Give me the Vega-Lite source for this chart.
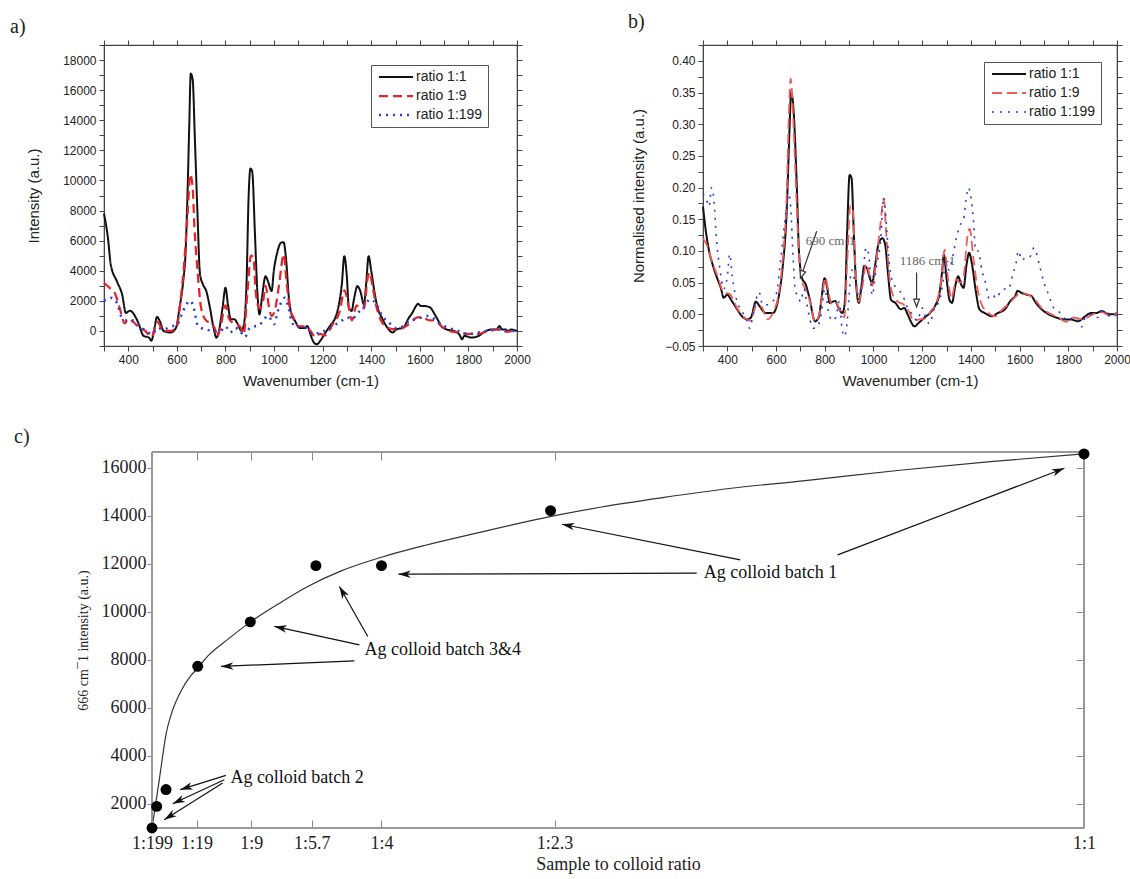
{
  "$schema": "https://vega.github.io/schema/vega-lite/v6.json",
  "background": "white",
  "padding": {"left": 9, "top": 11, "right": 2, "bottom": 2},
  "spacing": 38,
  "config": {
    "axis": {"grid": false},
    "title": {"font": "Liberation Serif", "fontSize": 20, "fontWeight": "normal", "color": "#222"}
  },
  "datasets": {
    "specA": [
      {"series":"ratio 1:1","wn":300,"y":7800},{"series":"ratio 1:1","wn":316,"y":6200},{"series":"ratio 1:1","wn":328,"y":4400},{"series":"ratio 1:1","wn":353,"y":3300},{"series":"ratio 1:1","wn":375,"y":2400},{"series":"ratio 1:1","wn":390,"y":1200},{"series":"ratio 1:1","wn":407,"y":1350},{"series":"ratio 1:1","wn":419,"y":1200},{"series":"ratio 1:1","wn":441,"y":550},{"series":"ratio 1:1","wn":463,"y":-330},{"series":"ratio 1:1","wn":485,"y":-440},{"series":"ratio 1:1","wn":495,"y":-650},{"series":"ratio 1:1","wn":508,"y":200},{"series":"ratio 1:1","wn":518,"y":930},{"series":"ratio 1:1","wn":530,"y":650},{"series":"ratio 1:1","wn":545,"y":0},{"series":"ratio 1:1","wn":574,"y":-100},{"series":"ratio 1:1","wn":596,"y":200},{"series":"ratio 1:1","wn":611,"y":1550},{"series":"ratio 1:1","wn":626,"y":3300},{"series":"ratio 1:1","wn":636,"y":5300},{"series":"ratio 1:1","wn":645,"y":9900},{"series":"ratio 1:1","wn":651,"y":13700},{"series":"ratio 1:1","wn":657,"y":17100},{"series":"ratio 1:1","wn":665,"y":16700},{"series":"ratio 1:1","wn":674,"y":12800},{"series":"ratio 1:1","wn":685,"y":7700},{"series":"ratio 1:1","wn":695,"y":3800},{"series":"ratio 1:1","wn":707,"y":3100},{"series":"ratio 1:1","wn":721,"y":2650},{"series":"ratio 1:1","wn":736,"y":1550},{"series":"ratio 1:1","wn":751,"y":200},{"series":"ratio 1:1","wn":763,"y":-450},{"series":"ratio 1:1","wn":773,"y":0},{"series":"ratio 1:1","wn":788,"y":1550},{"series":"ratio 1:1","wn":800,"y":2870},{"series":"ratio 1:1","wn":810,"y":1770},{"series":"ratio 1:1","wn":822,"y":770},{"series":"ratio 1:1","wn":837,"y":770},{"series":"ratio 1:1","wn":851,"y":440},{"series":"ratio 1:1","wn":866,"y":0},{"series":"ratio 1:1","wn":876,"y":440},{"series":"ratio 1:1","wn":887,"y":3300},{"series":"ratio 1:1","wn":895,"y":8800},{"series":"ratio 1:1","wn":903,"y":10800},{"series":"ratio 1:1","wn":910,"y":10600},{"series":"ratio 1:1","wn":921,"y":6600},{"series":"ratio 1:1","wn":931,"y":2650},{"series":"ratio 1:1","wn":940,"y":1100},{"series":"ratio 1:1","wn":950,"y":2200},{"series":"ratio 1:1","wn":965,"y":3640},{"series":"ratio 1:1","wn":975,"y":3300},{"series":"ratio 1:1","wn":990,"y":2650},{"series":"ratio 1:1","wn":999,"y":4000},{"series":"ratio 1:1","wn":1013,"y":5200},{"series":"ratio 1:1","wn":1028,"y":5850},{"series":"ratio 1:1","wn":1039,"y":5900},{"series":"ratio 1:1","wn":1049,"y":4850},{"series":"ratio 1:1","wn":1061,"y":2200},{"series":"ratio 1:1","wn":1072,"y":1100},{"series":"ratio 1:1","wn":1087,"y":650},{"series":"ratio 1:1","wn":1105,"y":200},{"series":"ratio 1:1","wn":1127,"y":200},{"series":"ratio 1:1","wn":1137,"y":330},{"series":"ratio 1:1","wn":1149,"y":-200},{"series":"ratio 1:1","wn":1164,"y":-770},{"series":"ratio 1:1","wn":1176,"y":-880},{"series":"ratio 1:1","wn":1190,"y":-660},{"series":"ratio 1:1","wn":1208,"y":-200},{"series":"ratio 1:1","wn":1230,"y":330},{"series":"ratio 1:1","wn":1252,"y":880},{"series":"ratio 1:1","wn":1267,"y":1770},{"series":"ratio 1:1","wn":1279,"y":3100},{"series":"ratio 1:1","wn":1289,"y":4970},{"series":"ratio 1:1","wn":1299,"y":3760},{"series":"ratio 1:1","wn":1308,"y":1550},{"series":"ratio 1:1","wn":1319,"y":1330},{"series":"ratio 1:1","wn":1330,"y":2200},{"series":"ratio 1:1","wn":1343,"y":2980},{"series":"ratio 1:1","wn":1355,"y":2650},{"series":"ratio 1:1","wn":1370,"y":1770},{"series":"ratio 1:1","wn":1380,"y":3300},{"series":"ratio 1:1","wn":1389,"y":4970},{"series":"ratio 1:1","wn":1400,"y":4000},{"series":"ratio 1:1","wn":1415,"y":2430},{"series":"ratio 1:1","wn":1426,"y":1550},{"series":"ratio 1:1","wn":1444,"y":880},{"series":"ratio 1:1","wn":1466,"y":220},{"series":"ratio 1:1","wn":1488,"y":-100},{"series":"ratio 1:1","wn":1503,"y":100},{"series":"ratio 1:1","wn":1532,"y":220},{"series":"ratio 1:1","wn":1555,"y":880},{"series":"ratio 1:1","wn":1569,"y":1200},{"series":"ratio 1:1","wn":1584,"y":1650},{"series":"ratio 1:1","wn":1592,"y":1800},{"series":"ratio 1:1","wn":1606,"y":1650},{"series":"ratio 1:1","wn":1621,"y":1650},{"series":"ratio 1:1","wn":1643,"y":1550},{"series":"ratio 1:1","wn":1658,"y":1200},{"series":"ratio 1:1","wn":1673,"y":770},{"series":"ratio 1:1","wn":1688,"y":330},{"series":"ratio 1:1","wn":1710,"y":100},{"series":"ratio 1:1","wn":1740,"y":0},{"series":"ratio 1:1","wn":1762,"y":-220},{"series":"ratio 1:1","wn":1774,"y":-550},{"series":"ratio 1:1","wn":1783,"y":-330},{"series":"ratio 1:1","wn":1813,"y":-440},{"series":"ratio 1:1","wn":1842,"y":-330},{"series":"ratio 1:1","wn":1872,"y":0},{"series":"ratio 1:1","wn":1894,"y":100},{"series":"ratio 1:1","wn":1916,"y":100},{"series":"ratio 1:1","wn":1928,"y":330},{"series":"ratio 1:1","wn":1938,"y":100},{"series":"ratio 1:1","wn":1953,"y":100},{"series":"ratio 1:1","wn":1963,"y":0},{"series":"ratio 1:1","wn":1975,"y":100},{"series":"ratio 1:1","wn":2000,"y":0},
      {"series":"ratio 1:9","wn":300,"y":3200},{"series":"ratio 1:9","wn":320,"y":2900},{"series":"ratio 1:9","wn":345,"y":2500},{"series":"ratio 1:9","wn":365,"y":1500},{"series":"ratio 1:9","wn":385,"y":500},{"series":"ratio 1:9","wn":400,"y":800},{"series":"ratio 1:9","wn":420,"y":600},{"series":"ratio 1:9","wn":440,"y":300},{"series":"ratio 1:9","wn":470,"y":0},{"series":"ratio 1:9","wn":495,"y":-400},{"series":"ratio 1:9","wn":520,"y":600},{"series":"ratio 1:9","wn":545,"y":0},{"series":"ratio 1:9","wn":575,"y":0},{"series":"ratio 1:9","wn":600,"y":300},{"series":"ratio 1:9","wn":615,"y":2000},{"series":"ratio 1:9","wn":630,"y":4500},{"series":"ratio 1:9","wn":645,"y":8000},{"series":"ratio 1:9","wn":655,"y":10400},{"series":"ratio 1:9","wn":665,"y":9500},{"series":"ratio 1:9","wn":672,"y":7000},{"series":"ratio 1:9","wn":685,"y":4000},{"series":"ratio 1:9","wn":700,"y":1500},{"series":"ratio 1:9","wn":720,"y":700},{"series":"ratio 1:9","wn":740,"y":500},{"series":"ratio 1:9","wn":755,"y":200},{"series":"ratio 1:9","wn":765,"y":-400},{"series":"ratio 1:9","wn":780,"y":300},{"series":"ratio 1:9","wn":800,"y":1700},{"series":"ratio 1:9","wn":815,"y":800},{"series":"ratio 1:9","wn":835,"y":500},{"series":"ratio 1:9","wn":860,"y":300},{"series":"ratio 1:9","wn":875,"y":-200},{"series":"ratio 1:9","wn":890,"y":2500},{"series":"ratio 1:9","wn":905,"y":5000},{"series":"ratio 1:9","wn":915,"y":4900},{"series":"ratio 1:9","wn":925,"y":2500},{"series":"ratio 1:9","wn":940,"y":1500},{"series":"ratio 1:9","wn":955,"y":2000},{"series":"ratio 1:9","wn":965,"y":3000},{"series":"ratio 1:9","wn":980,"y":1500},{"series":"ratio 1:9","wn":990,"y":1000},{"series":"ratio 1:9","wn":1005,"y":1500},{"series":"ratio 1:9","wn":1020,"y":3000},{"series":"ratio 1:9","wn":1040,"y":5100},{"series":"ratio 1:9","wn":1050,"y":3500},{"series":"ratio 1:9","wn":1065,"y":1500},{"series":"ratio 1:9","wn":1080,"y":900},{"series":"ratio 1:9","wn":1100,"y":300},{"series":"ratio 1:9","wn":1130,"y":300},{"series":"ratio 1:9","wn":1150,"y":0},{"series":"ratio 1:9","wn":1170,"y":-400},{"series":"ratio 1:9","wn":1190,"y":-200},{"series":"ratio 1:9","wn":1210,"y":-300},{"series":"ratio 1:9","wn":1240,"y":400},{"series":"ratio 1:9","wn":1270,"y":1300},{"series":"ratio 1:9","wn":1290,"y":2700},{"series":"ratio 1:9","wn":1305,"y":1800},{"series":"ratio 1:9","wn":1320,"y":700},{"series":"ratio 1:9","wn":1340,"y":1700},{"series":"ratio 1:9","wn":1355,"y":1500},{"series":"ratio 1:9","wn":1370,"y":1500},{"series":"ratio 1:9","wn":1385,"y":3500},{"series":"ratio 1:9","wn":1393,"y":3900},{"series":"ratio 1:9","wn":1405,"y":3000},{"series":"ratio 1:9","wn":1420,"y":1700},{"series":"ratio 1:9","wn":1440,"y":700},{"series":"ratio 1:9","wn":1470,"y":200},{"series":"ratio 1:9","wn":1500,"y":100},{"series":"ratio 1:9","wn":1530,"y":200},{"series":"ratio 1:9","wn":1560,"y":500},{"series":"ratio 1:9","wn":1590,"y":900},{"series":"ratio 1:9","wn":1610,"y":900},{"series":"ratio 1:9","wn":1640,"y":700},{"series":"ratio 1:9","wn":1660,"y":700},{"series":"ratio 1:9","wn":1690,"y":300},{"series":"ratio 1:9","wn":1720,"y":0},{"series":"ratio 1:9","wn":1760,"y":-100},{"series":"ratio 1:9","wn":1800,"y":-200},{"series":"ratio 1:9","wn":1840,"y":-200},{"series":"ratio 1:9","wn":1880,"y":0},{"series":"ratio 1:9","wn":1920,"y":100},{"series":"ratio 1:9","wn":1960,"y":-50},{"series":"ratio 1:9","wn":2000,"y":100},
      {"series":"ratio 1:199","wn":300,"y":2000},{"series":"ratio 1:199","wn":330,"y":2200},{"series":"ratio 1:199","wn":355,"y":1800},{"series":"ratio 1:199","wn":370,"y":1000},{"series":"ratio 1:199","wn":395,"y":700},{"series":"ratio 1:199","wn":420,"y":700},{"series":"ratio 1:199","wn":450,"y":300},{"series":"ratio 1:199","wn":480,"y":-100},{"series":"ratio 1:199","wn":500,"y":-200},{"series":"ratio 1:199","wn":520,"y":200},{"series":"ratio 1:199","wn":545,"y":100},{"series":"ratio 1:199","wn":575,"y":300},{"series":"ratio 1:199","wn":600,"y":400},{"series":"ratio 1:199","wn":620,"y":1100},{"series":"ratio 1:199","wn":640,"y":1800},{"series":"ratio 1:199","wn":655,"y":2000},{"series":"ratio 1:199","wn":670,"y":1500},{"series":"ratio 1:199","wn":685,"y":400},{"series":"ratio 1:199","wn":700,"y":200},{"series":"ratio 1:199","wn":720,"y":100},{"series":"ratio 1:199","wn":750,"y":0},{"series":"ratio 1:199","wn":780,"y":0},{"series":"ratio 1:199","wn":800,"y":300},{"series":"ratio 1:199","wn":820,"y":-100},{"series":"ratio 1:199","wn":840,"y":200},{"series":"ratio 1:199","wn":860,"y":0},{"series":"ratio 1:199","wn":880,"y":-400},{"series":"ratio 1:199","wn":900,"y":200},{"series":"ratio 1:199","wn":920,"y":300},{"series":"ratio 1:199","wn":940,"y":400},{"series":"ratio 1:199","wn":960,"y":800},{"series":"ratio 1:199","wn":975,"y":1000},{"series":"ratio 1:199","wn":990,"y":700},{"series":"ratio 1:199","wn":1000,"y":450},{"series":"ratio 1:199","wn":1015,"y":1300},{"series":"ratio 1:199","wn":1030,"y":1900},{"series":"ratio 1:199","wn":1045,"y":2200},{"series":"ratio 1:199","wn":1060,"y":1500},{"series":"ratio 1:199","wn":1075,"y":500},{"series":"ratio 1:199","wn":1100,"y":300},{"series":"ratio 1:199","wn":1130,"y":200},{"series":"ratio 1:199","wn":1160,"y":-200},{"series":"ratio 1:199","wn":1190,"y":-100},{"series":"ratio 1:199","wn":1220,"y":100},{"series":"ratio 1:199","wn":1250,"y":400},{"series":"ratio 1:199","wn":1280,"y":700},{"series":"ratio 1:199","wn":1300,"y":900},{"series":"ratio 1:199","wn":1320,"y":800},{"series":"ratio 1:199","wn":1345,"y":1200},{"series":"ratio 1:199","wn":1370,"y":1600},{"series":"ratio 1:199","wn":1395,"y":2100},{"series":"ratio 1:199","wn":1420,"y":1800},{"series":"ratio 1:199","wn":1445,"y":1000},{"series":"ratio 1:199","wn":1470,"y":600},{"series":"ratio 1:199","wn":1500,"y":200},{"series":"ratio 1:199","wn":1530,"y":300},{"series":"ratio 1:199","wn":1560,"y":700},{"series":"ratio 1:199","wn":1590,"y":800},{"series":"ratio 1:199","wn":1630,"y":1000},{"series":"ratio 1:199","wn":1660,"y":800},{"series":"ratio 1:199","wn":1690,"y":400},{"series":"ratio 1:199","wn":1720,"y":200},{"series":"ratio 1:199","wn":1760,"y":0},{"series":"ratio 1:199","wn":1800,"y":-200},{"series":"ratio 1:199","wn":1840,"y":-100},{"series":"ratio 1:199","wn":1880,"y":0},{"series":"ratio 1:199","wn":1920,"y":100},{"series":"ratio 1:199","wn":1960,"y":0},{"series":"ratio 1:199","wn":2000,"y":0}
    ],
    "specB": [
      {"series":"ratio 1:1","wn":300,"y":0.17},{"series":"ratio 1:1","wn":310,"y":0.136},{"series":"ratio 1:1","wn":325,"y":0.1},{"series":"ratio 1:1","wn":340,"y":0.078},{"series":"ratio 1:1","wn":358,"y":0.057},{"series":"ratio 1:1","wn":373,"y":0.042},{"series":"ratio 1:1","wn":385,"y":0.026},{"series":"ratio 1:1","wn":400,"y":0.031},{"series":"ratio 1:1","wn":415,"y":0.023},{"series":"ratio 1:1","wn":437,"y":0.01},{"series":"ratio 1:1","wn":460,"y":-0.003},{"series":"ratio 1:1","wn":482,"y":-0.008},{"series":"ratio 1:1","wn":497,"y":-0.005},{"series":"ratio 1:1","wn":517,"y":0.02},{"series":"ratio 1:1","wn":532,"y":0.013},{"series":"ratio 1:1","wn":557,"y":0.002},{"series":"ratio 1:1","wn":587,"y":0.002},{"series":"ratio 1:1","wn":610,"y":0.026},{"series":"ratio 1:1","wn":628,"y":0.078},{"series":"ratio 1:1","wn":643,"y":0.157},{"series":"ratio 1:1","wn":655,"y":0.288},{"series":"ratio 1:1","wn":662,"y":0.351},{"series":"ratio 1:1","wn":673,"y":0.315},{"series":"ratio 1:1","wn":685,"y":0.204},{"series":"ratio 1:1","wn":694,"y":0.099},{"series":"ratio 1:1","wn":707,"y":0.057},{"series":"ratio 1:1","wn":722,"y":0.047},{"series":"ratio 1:1","wn":737,"y":0.026},{"series":"ratio 1:1","wn":760,"y":-0.011},{"series":"ratio 1:1","wn":775,"y":-0.005},{"series":"ratio 1:1","wn":787,"y":0.026},{"series":"ratio 1:1","wn":799,"y":0.057},{"series":"ratio 1:1","wn":810,"y":0.042},{"series":"ratio 1:1","wn":820,"y":0.018},{"series":"ratio 1:1","wn":842,"y":0.021},{"series":"ratio 1:1","wn":857,"y":0.01},{"series":"ratio 1:1","wn":872,"y":0.002},{"series":"ratio 1:1","wn":883,"y":0.021},{"series":"ratio 1:1","wn":892,"y":0.131},{"series":"ratio 1:1","wn":902,"y":0.22},{"series":"ratio 1:1","wn":910,"y":0.215},{"series":"ratio 1:1","wn":919,"y":0.131},{"series":"ratio 1:1","wn":928,"y":0.052},{"series":"ratio 1:1","wn":940,"y":0.018},{"series":"ratio 1:1","wn":950,"y":0.042},{"series":"ratio 1:1","wn":962,"y":0.076},{"series":"ratio 1:1","wn":973,"y":0.073},{"series":"ratio 1:1","wn":985,"y":0.057},{"series":"ratio 1:1","wn":995,"y":0.05},{"series":"ratio 1:1","wn":1007,"y":0.078},{"series":"ratio 1:1","wn":1022,"y":0.113},{"series":"ratio 1:1","wn":1037,"y":0.12},{"series":"ratio 1:1","wn":1048,"y":0.11},{"series":"ratio 1:1","wn":1060,"y":0.063},{"series":"ratio 1:1","wn":1072,"y":0.023},{"series":"ratio 1:1","wn":1090,"y":0.018},{"series":"ratio 1:1","wn":1112,"y":0.008},{"series":"ratio 1:1","wn":1127,"y":0.01},{"series":"ratio 1:1","wn":1138,"y":0.002},{"series":"ratio 1:1","wn":1153,"y":-0.011},{"series":"ratio 1:1","wn":1168,"y":-0.019},{"series":"ratio 1:1","wn":1187,"y":-0.013},{"series":"ratio 1:1","wn":1210,"y":-0.005},{"series":"ratio 1:1","wn":1232,"y":0.002},{"series":"ratio 1:1","wn":1255,"y":0.015},{"series":"ratio 1:1","wn":1270,"y":0.031},{"series":"ratio 1:1","wn":1282,"y":0.068},{"series":"ratio 1:1","wn":1289,"y":0.094},{"series":"ratio 1:1","wn":1300,"y":0.057},{"series":"ratio 1:1","wn":1312,"y":0.023},{"series":"ratio 1:1","wn":1322,"y":0.018},{"series":"ratio 1:1","wn":1337,"y":0.047},{"series":"ratio 1:1","wn":1348,"y":0.06},{"series":"ratio 1:1","wn":1360,"y":0.047},{"series":"ratio 1:1","wn":1370,"y":0.042},{"series":"ratio 1:1","wn":1382,"y":0.078},{"series":"ratio 1:1","wn":1393,"y":0.097},{"series":"ratio 1:1","wn":1405,"y":0.078},{"series":"ratio 1:1","wn":1420,"y":0.037},{"series":"ratio 1:1","wn":1435,"y":0.008},{"series":"ratio 1:1","wn":1457,"y":0.002},{"series":"ratio 1:1","wn":1487,"y":-0.003},{"series":"ratio 1:1","wn":1510,"y":0.002},{"series":"ratio 1:1","wn":1540,"y":0.008},{"series":"ratio 1:1","wn":1562,"y":0.021},{"series":"ratio 1:1","wn":1582,"y":0.029},{"series":"ratio 1:1","wn":1592,"y":0.037},{"series":"ratio 1:1","wn":1607,"y":0.034},{"series":"ratio 1:1","wn":1630,"y":0.031},{"series":"ratio 1:1","wn":1648,"y":0.029},{"series":"ratio 1:1","wn":1667,"y":0.018},{"series":"ratio 1:1","wn":1690,"y":0.008},{"series":"ratio 1:1","wn":1720,"y":0},{"series":"ratio 1:1","wn":1750,"y":-0.005},{"series":"ratio 1:1","wn":1780,"y":-0.008},{"series":"ratio 1:1","wn":1810,"y":-0.008},{"series":"ratio 1:1","wn":1840,"y":-0.011},{"series":"ratio 1:1","wn":1870,"y":-0.003},{"series":"ratio 1:1","wn":1892,"y":0.002},{"series":"ratio 1:1","wn":1915,"y":0.002},{"series":"ratio 1:1","wn":1937,"y":0.005},{"series":"ratio 1:1","wn":1960,"y":0.001},{"series":"ratio 1:1","wn":1982,"y":0},{"series":"ratio 1:1","wn":2000,"y":0.002},
      {"series":"ratio 1:9","wn":300,"y":0.12},{"series":"ratio 1:9","wn":315,"y":0.11},{"series":"ratio 1:9","wn":340,"y":0.08},{"series":"ratio 1:9","wn":360,"y":0.06},{"series":"ratio 1:9","wn":385,"y":0.035},{"series":"ratio 1:9","wn":410,"y":0.032},{"series":"ratio 1:9","wn":440,"y":0.01},{"series":"ratio 1:9","wn":470,"y":-0.005},{"series":"ratio 1:9","wn":495,"y":-0.01},{"series":"ratio 1:9","wn":520,"y":0.015},{"series":"ratio 1:9","wn":540,"y":0.012},{"series":"ratio 1:9","wn":565,"y":-0.008},{"series":"ratio 1:9","wn":590,"y":0.005},{"series":"ratio 1:9","wn":610,"y":0.03},{"series":"ratio 1:9","wn":628,"y":0.09},{"series":"ratio 1:9","wn":643,"y":0.18},{"series":"ratio 1:9","wn":653,"y":0.32},{"series":"ratio 1:9","wn":660,"y":0.372},{"series":"ratio 1:9","wn":668,"y":0.33},{"series":"ratio 1:9","wn":680,"y":0.22},{"series":"ratio 1:9","wn":692,"y":0.11},{"series":"ratio 1:9","wn":705,"y":0.055},{"series":"ratio 1:9","wn":720,"y":0.04},{"series":"ratio 1:9","wn":740,"y":0.02},{"series":"ratio 1:9","wn":760,"y":-0.012},{"series":"ratio 1:9","wn":775,"y":-0.003},{"series":"ratio 1:9","wn":790,"y":0.03},{"series":"ratio 1:9","wn":803,"y":0.058},{"series":"ratio 1:9","wn":815,"y":0.035},{"series":"ratio 1:9","wn":830,"y":0.015},{"series":"ratio 1:9","wn":845,"y":0.018},{"series":"ratio 1:9","wn":865,"y":0.005},{"series":"ratio 1:9","wn":880,"y":-0.005},{"series":"ratio 1:9","wn":893,"y":0.09},{"series":"ratio 1:9","wn":905,"y":0.172},{"series":"ratio 1:9","wn":915,"y":0.165},{"series":"ratio 1:9","wn":925,"y":0.08},{"series":"ratio 1:9","wn":940,"y":0.02},{"series":"ratio 1:9","wn":955,"y":0.045},{"series":"ratio 1:9","wn":970,"y":0.08},{"series":"ratio 1:9","wn":985,"y":0.06},{"series":"ratio 1:9","wn":995,"y":0.045},{"series":"ratio 1:9","wn":1010,"y":0.08},{"series":"ratio 1:9","wn":1028,"y":0.14},{"series":"ratio 1:9","wn":1042,"y":0.182},{"series":"ratio 1:9","wn":1052,"y":0.13},{"series":"ratio 1:9","wn":1065,"y":0.06},{"series":"ratio 1:9","wn":1080,"y":0.03},{"series":"ratio 1:9","wn":1100,"y":0.02},{"series":"ratio 1:9","wn":1125,"y":0.015},{"series":"ratio 1:9","wn":1145,"y":0.005},{"series":"ratio 1:9","wn":1165,"y":-0.01},{"series":"ratio 1:9","wn":1190,"y":-0.008},{"series":"ratio 1:9","wn":1210,"y":-0.007},{"series":"ratio 1:9","wn":1235,"y":0.005},{"series":"ratio 1:9","wn":1260,"y":0.02},{"series":"ratio 1:9","wn":1280,"y":0.06},{"series":"ratio 1:9","wn":1292,"y":0.102},{"series":"ratio 1:9","wn":1305,"y":0.06},{"series":"ratio 1:9","wn":1320,"y":0.025},{"series":"ratio 1:9","wn":1340,"y":0.055},{"series":"ratio 1:9","wn":1355,"y":0.05},{"series":"ratio 1:9","wn":1370,"y":0.06},{"series":"ratio 1:9","wn":1385,"y":0.12},{"series":"ratio 1:9","wn":1395,"y":0.135},{"series":"ratio 1:9","wn":1410,"y":0.09},{"series":"ratio 1:9","wn":1425,"y":0.045},{"series":"ratio 1:9","wn":1445,"y":0.015},{"series":"ratio 1:9","wn":1470,"y":0.003},{"series":"ratio 1:9","wn":1500,"y":-0.003},{"series":"ratio 1:9","wn":1530,"y":0.008},{"series":"ratio 1:9","wn":1560,"y":0.018},{"series":"ratio 1:9","wn":1590,"y":0.03},{"series":"ratio 1:9","wn":1610,"y":0.033},{"series":"ratio 1:9","wn":1640,"y":0.03},{"series":"ratio 1:9","wn":1665,"y":0.022},{"series":"ratio 1:9","wn":1690,"y":0.01},{"series":"ratio 1:9","wn":1720,"y":0.002},{"series":"ratio 1:9","wn":1760,"y":-0.005},{"series":"ratio 1:9","wn":1790,"y":-0.012},{"series":"ratio 1:9","wn":1820,"y":-0.005},{"series":"ratio 1:9","wn":1860,"y":-0.008},{"series":"ratio 1:9","wn":1900,"y":0},{"series":"ratio 1:9","wn":1940,"y":0.003},{"series":"ratio 1:9","wn":1970,"y":-0.002},{"series":"ratio 1:9","wn":2000,"y":0.003},
      {"series":"ratio 1:199","wn":300,"y":0.19},{"series":"ratio 1:199","wn":315,"y":0.18},{"series":"ratio 1:199","wn":325,"y":0.17},{"series":"ratio 1:199","wn":335,"y":0.2},{"series":"ratio 1:199","wn":345,"y":0.18},{"series":"ratio 1:199","wn":355,"y":0.12},{"series":"ratio 1:199","wn":370,"y":0.07},{"series":"ratio 1:199","wn":385,"y":0.04},{"series":"ratio 1:199","wn":400,"y":0.06},{"series":"ratio 1:199","wn":410,"y":0.095},{"series":"ratio 1:199","wn":420,"y":0.06},{"series":"ratio 1:199","wn":440,"y":0.02},{"series":"ratio 1:199","wn":460,"y":0.005},{"series":"ratio 1:199","wn":480,"y":-0.01},{"series":"ratio 1:199","wn":492,"y":-0.022},{"series":"ratio 1:199","wn":510,"y":0.01},{"series":"ratio 1:199","wn":530,"y":0.035},{"series":"ratio 1:199","wn":545,"y":0.015},{"series":"ratio 1:199","wn":565,"y":0.015},{"series":"ratio 1:199","wn":585,"y":0.02},{"series":"ratio 1:199","wn":600,"y":0.03},{"series":"ratio 1:199","wn":620,"y":0.09},{"series":"ratio 1:199","wn":640,"y":0.16},{"series":"ratio 1:199","wn":652,"y":0.19},{"series":"ratio 1:199","wn":660,"y":0.17},{"series":"ratio 1:199","wn":670,"y":0.09},{"series":"ratio 1:199","wn":680,"y":0.035},{"series":"ratio 1:199","wn":690,"y":0.03},{"series":"ratio 1:199","wn":700,"y":0.02},{"series":"ratio 1:199","wn":715,"y":0.04},{"series":"ratio 1:199","wn":725,"y":0.02},{"series":"ratio 1:199","wn":740,"y":-0.01},{"series":"ratio 1:199","wn":755,"y":-0.022},{"series":"ratio 1:199","wn":770,"y":-0.02},{"series":"ratio 1:199","wn":785,"y":0},{"series":"ratio 1:199","wn":800,"y":0.04},{"series":"ratio 1:199","wn":815,"y":0.005},{"series":"ratio 1:199","wn":830,"y":-0.01},{"series":"ratio 1:199","wn":845,"y":-0.005},{"series":"ratio 1:199","wn":860,"y":0.02},{"series":"ratio 1:199","wn":870,"y":-0.02},{"series":"ratio 1:199","wn":880,"y":-0.035},{"series":"ratio 1:199","wn":890,"y":-0.02},{"series":"ratio 1:199","wn":900,"y":0.03},{"series":"ratio 1:199","wn":910,"y":0.07},{"series":"ratio 1:199","wn":925,"y":0.05},{"series":"ratio 1:199","wn":940,"y":0.03},{"series":"ratio 1:199","wn":955,"y":0.06},{"series":"ratio 1:199","wn":970,"y":0.105},{"series":"ratio 1:199","wn":980,"y":0.095},{"series":"ratio 1:199","wn":995,"y":0.03},{"series":"ratio 1:199","wn":1010,"y":0.07},{"series":"ratio 1:199","wn":1030,"y":0.12},{"series":"ratio 1:199","wn":1042,"y":0.185},{"series":"ratio 1:199","wn":1055,"y":0.13},{"series":"ratio 1:199","wn":1065,"y":0.08},{"series":"ratio 1:199","wn":1080,"y":0.05},{"series":"ratio 1:199","wn":1100,"y":0.04},{"series":"ratio 1:199","wn":1120,"y":0.03},{"series":"ratio 1:199","wn":1140,"y":0.01},{"series":"ratio 1:199","wn":1160,"y":0},{"series":"ratio 1:199","wn":1180,"y":-0.01},{"series":"ratio 1:199","wn":1200,"y":0.01},{"series":"ratio 1:199","wn":1215,"y":-0.005},{"series":"ratio 1:199","wn":1230,"y":-0.015},{"series":"ratio 1:199","wn":1250,"y":0.01},{"series":"ratio 1:199","wn":1270,"y":0.02},{"series":"ratio 1:199","wn":1285,"y":0.05},{"series":"ratio 1:199","wn":1295,"y":0.08},{"series":"ratio 1:199","wn":1310,"y":0.07},{"series":"ratio 1:199","wn":1325,"y":0.09},{"series":"ratio 1:199","wn":1340,"y":0.12},{"series":"ratio 1:199","wn":1355,"y":0.14},{"series":"ratio 1:199","wn":1370,"y":0.15},{"series":"ratio 1:199","wn":1380,"y":0.18},{"series":"ratio 1:199","wn":1390,"y":0.2},{"series":"ratio 1:199","wn":1400,"y":0.185},{"series":"ratio 1:199","wn":1410,"y":0.15},{"series":"ratio 1:199","wn":1420,"y":0.1},{"series":"ratio 1:199","wn":1430,"y":0.1},{"series":"ratio 1:199","wn":1445,"y":0.07},{"series":"ratio 1:199","wn":1460,"y":0.05},{"series":"ratio 1:199","wn":1475,"y":0.025},{"series":"ratio 1:199","wn":1490,"y":0.03},{"series":"ratio 1:199","wn":1505,"y":0.025},{"series":"ratio 1:199","wn":1520,"y":0.035},{"series":"ratio 1:199","wn":1540,"y":0.04},{"series":"ratio 1:199","wn":1555,"y":0.04},{"series":"ratio 1:199","wn":1570,"y":0.06},{"series":"ratio 1:199","wn":1585,"y":0.08},{"series":"ratio 1:199","wn":1595,"y":0.1},{"series":"ratio 1:199","wn":1610,"y":0.085},{"series":"ratio 1:199","wn":1625,"y":0.09},{"series":"ratio 1:199","wn":1640,"y":0.09},{"series":"ratio 1:199","wn":1660,"y":0.105},{"series":"ratio 1:199","wn":1680,"y":0.08},{"series":"ratio 1:199","wn":1700,"y":0.05},{"series":"ratio 1:199","wn":1720,"y":0.03},{"series":"ratio 1:199","wn":1740,"y":0.01},{"series":"ratio 1:199","wn":1760,"y":0.005},{"series":"ratio 1:199","wn":1780,"y":-0.005},{"series":"ratio 1:199","wn":1800,"y":-0.01},{"series":"ratio 1:199","wn":1820,"y":-0.005},{"series":"ratio 1:199","wn":1840,"y":-0.01},{"series":"ratio 1:199","wn":1855,"y":-0.02},{"series":"ratio 1:199","wn":1870,"y":-0.005},{"series":"ratio 1:199","wn":1900,"y":0},{"series":"ratio 1:199","wn":1920,"y":-0.005},{"series":"ratio 1:199","wn":1940,"y":0.005},{"series":"ratio 1:199","wn":1960,"y":0},{"series":"ratio 1:199","wn":1980,"y":-0.005},{"series":"ratio 1:199","wn":2000,"y":0}
    ],
    "notesB": [
      {"wn": 722, "y": 0.116, "label": "690 cm-1"},
      {"wn": 1108, "y": 0.084, "label": "1186 cm-1"}
    ],
    "arrowsB": [
      {"x1": 767, "y1": 0.131, "x2": 700, "y2": 0.057, "dir": 199},
      {"x1": 1177, "y1": 0.066, "x2": 1177, "y2": 0.012, "dir": 180}
    ],
    "frameC": [
      {"x1": 0.005025, "y1": 1000, "x2": 1, "y2": 1000},
      {"x1": 0.005025, "y1": 16650, "x2": 1, "y2": 16650},
      {"x1": 0.005025, "y1": 1000, "x2": 0.005025, "y2": 16650},
      {"x1": 1, "y1": 1000, "x2": 1, "y2": 16650}
    ],
    "fit": [
      {"ratio":0.005025,"intensity":1000},{"ratio":0.007,"intensity":1500},{"ratio":0.0093,"intensity":2100},{"ratio":0.0128,"intensity":3000},{"ratio":0.0164,"intensity":4000},{"ratio":0.02,"intensity":4900},{"ratio":0.0253,"intensity":5700},{"ratio":0.036,"intensity":6700},{"ratio":0.0467,"intensity":7350},{"ratio":0.0538,"intensity":7650},{"ratio":0.0645,"intensity":8150},{"ratio":0.0859,"intensity":8850},{"ratio":0.111,"intensity":9600},{"ratio":0.143,"intensity":10400},{"ratio":0.1713,"intensity":11050},{"ratio":0.207,"intensity":11700},{"ratio":0.25,"intensity":12270},{"ratio":0.296,"intensity":12760},{"ratio":0.349,"intensity":13250},{"ratio":0.435,"intensity":14000},{"ratio":0.485,"intensity":14360},{"ratio":0.55,"intensity":14750},{"ratio":0.621,"intensity":15130},{"ratio":0.7,"intensity":15450},{"ratio":0.806,"intensity":15900},{"ratio":0.9,"intensity":16250},{"ratio":1,"intensity":16570}
    ],
    "points": [
      {"ratio":0.005025,"intensity":1000},{"ratio":0.01,"intensity":1900},{"ratio":0.02,"intensity":2600},{"ratio":0.0538,"intensity":7730},{"ratio":0.11,"intensity":9580},{"ratio":0.18,"intensity":11920},{"ratio":0.25,"intensity":11920},{"ratio":0.4305,"intensity":14210},{"ratio":1,"intensity":16570}
    ],
    "arrowsC": [
      {"x1":0.737,"y1":12366,"x2":0.979,"y2":15971,"dir":69},
      {"x1":0.633,"y1":12158,"x2":0.4427,"y2":13642,"dir":281},
      {"x1":0.5865,"y1":11605,"x2":0.268,"y2":11563,"dir":270},
      {"x1":0.2354,"y1":8973,"x2":0.2051,"y2":11052,"dir":330},
      {"x1":0.2265,"y1":8624,"x2":0.1357,"y2":9389,"dir":282},
      {"x1":0.2211,"y1":7958,"x2":0.0787,"y2":7726,"dir":268},
      {"x1":0.084,"y1":3193,"x2":0.0352,"y2":2595,"dir":252},
      {"x1":0.0822,"y1":3010,"x2":0.0271,"y2":2012,"dir":245},
      {"x1":0.0805,"y1":2873,"x2":0.0181,"y2":1347,"dir":238}
    ],
    "labelsC": [
      {"ratio":0.594,"intensity":11605,"label":"Ag colloid batch 1"},
      {"ratio":0.2318,"intensity":8416,"label":"Ag colloid batch 3&4"},
      {"ratio":0.0887,"intensity":3081,"label":"Ag colloid batch 2"}
    ]
  },
  "vconcat": [
    {
      "hconcat": [
        {
          "width": 413,
          "height": 301,
          "view": {"stroke": "#444", "strokeWidth": 1.2},
          "title": {"text": "a)", "anchor": "start", "frame": "group", "dx": -94, "dy": 22, "offset": 4, "baseline": "bottom"},
          "data": {"name": "specA"},
          "layer": [
            {
              "mark": {"type": "line", "interpolate": "monotone"},
              "encoding": {
                "x": {"field": "wn", "type": "quantitative", "scale": {"domain": [300, 2000], "nice": false, "zero": false},
                  "axis": {"orient": "bottom", "values": [300,400,500,600,700,800,900,1000,1100,1200,1300,1400,1500,1600,1700,1800,1900,2000], "format": "d", "labelExpr": "datum.value % 200 === 0 ? datum.label : ''", "title": "Wavenumber (cm-1)", "tickSize": 5, "tickColor": "#444", "domainColor": "#444", "labelFont": "Liberation Sans", "labelFontSize": 12, "labelColor": "#222", "labelPadding": 3, "labelOverlap": false, "labelFlush": false, "titleFont": "Liberation Sans", "titleFontSize": 15, "titleFontWeight": "normal", "titleColor": "#222", "titlePadding": 8}},
                "y": {"field": "y", "type": "quantitative", "scale": {"domain": [-1000, 19000], "nice": false, "zero": false},
                  "axis": {"orient": "left", "values": [-1000,0,1000,2000,3000,4000,5000,6000,7000,8000,9000,10000,11000,12000,13000,14000,15000,16000,17000,18000,19000], "format": "d", "labelExpr": "datum.value % 2000 === 0 ? datum.label : ''", "title": "Intensity (a.u.)", "tickSize": 5, "tickColor": "#444", "domainColor": "#444", "labelFont": "Liberation Sans", "labelFontSize": 12, "labelColor": "#222", "labelPadding": 3, "labelOverlap": false, "labelFlush": false, "titleFont": "Liberation Sans", "titleFontSize": 15, "titleFontWeight": "normal", "titleColor": "#222", "titlePadding": 21}},
                "color": {"field": "series", "type": "nominal", "scale": {"domain": ["ratio 1:1", "ratio 1:9", "ratio 1:199"], "range": ["#111111", "#e3262b", "#2b3dd8"]},
                  "legend": {"orient": "none", "legendX": 267, "legendY": 20, "title": null, "fillColor": "white", "strokeColor": "#555", "padding": 5, "symbolType": "M-4.25,0L4.25,0", "symbolSize": 64, "symbolOffset": 13, "symbolStrokeWidth": 2, "labelFont": "Liberation Sans", "labelFontSize": 14, "labelColor": "#222", "rowPadding": 5, "labelOffset": 13}},
                "strokeDash": {"field": "series", "type": "nominal", "scale": {"domain": ["ratio 1:1", "ratio 1:9", "ratio 1:199"], "range": [[1, 0], [9, 5], [2, 5]]},
                  "legend": {"orient": "none", "legendX": 267, "legendY": 20, "title": null, "fillColor": "white", "strokeColor": "#555", "padding": 5, "symbolType": "M-4.25,0L4.25,0", "symbolSize": 64, "symbolOffset": 13, "symbolStrokeWidth": 2, "labelFont": "Liberation Sans", "labelFontSize": 14, "labelColor": "#222", "rowPadding": 5, "labelOffset": 13}},
                "strokeWidth": {"field": "series", "type": "nominal", "scale": {"domain": ["ratio 1:1", "ratio 1:9", "ratio 1:199"], "range": [2, 2.5, 2.5]}, "legend": null}
              }
            },
            {
              "mark": {"type": "line", "opacity": 0},
              "encoding": {
                "x": {"field": "wn", "type": "quantitative", "scale": {"domain": [300, 2000], "nice": false, "zero": false},
                  "axis": {"orient": "top", "values": [300,400,500,600,700,800,900,1000,1100,1200,1300,1400,1500,1600,1700,1800,1900,2000], "labels": false, "title": null, "minExtent": 0, "tickSize": 5, "tickColor": "#444", "domainColor": "#444"}},
                "y": {"field": "y", "type": "quantitative", "scale": {"domain": [-1000, 19000], "nice": false, "zero": false},
                  "axis": {"orient": "right", "values": [-1000,0,1000,2000,3000,4000,5000,6000,7000,8000,9000,10000,11000,12000,13000,14000,15000,16000,17000,18000,19000], "labels": false, "title": null, "minExtent": 0, "tickSize": 5, "tickColor": "#444", "domainColor": "#444"}},
                "detail": {"field": "series", "type": "nominal"}
              }
            }
          ]
        },
        {
          "width": 414,
          "height": 301,
          "view": {"stroke": "#444", "strokeWidth": 1.2},
          "title": {"text": "b)", "anchor": "start", "frame": "group", "dx": -75, "dy": 17, "offset": 4, "baseline": "bottom"},
          "layer": [
            {
              "data": {"name": "specB"},
              "mark": {"type": "line", "interpolate": "monotone"},
              "encoding": {
                "x": {"field": "wn", "type": "quantitative", "scale": {"domain": [300, 2000], "nice": false, "zero": false},
                  "axis": {"orient": "bottom", "values": [300,400,500,600,700,800,900,1000,1100,1200,1300,1400,1500,1600,1700,1800,1900,2000], "format": "d", "labelExpr": "datum.value % 200 === 0 ? datum.label : ''", "title": "Wavenumber (cm-1)", "tickSize": 5, "tickColor": "#444", "domainColor": "#444", "labelFont": "Liberation Sans", "labelFontSize": 12, "labelColor": "#222", "labelPadding": 3, "labelOverlap": false, "labelFlush": false, "titleFont": "Liberation Sans", "titleFontSize": 15, "titleFontWeight": "normal", "titleColor": "#222", "titlePadding": 8}},
                "y": {"field": "y", "type": "quantitative", "scale": {"domain": [-0.05, 0.425], "nice": false, "zero": false},
                  "axis": {"orient": "left", "values": [-0.05,-0.025,0,0.025,0.05,0.075,0.1,0.125,0.15,0.175,0.2,0.225,0.25,0.275,0.3,0.325,0.35,0.375,0.4,0.425], "labelExpr": "abs(round(datum.value * 1000)) % 50 === 0 ? format(datum.value, '.2f') : ''", "title": "Normalised intensity (a.u.)", "tickSize": 5, "tickColor": "#444", "domainColor": "#444", "labelFont": "Liberation Sans", "labelFontSize": 12, "labelColor": "#222", "labelPadding": 3, "labelOverlap": false, "labelFlush": false, "titleFont": "Liberation Sans", "titleFontSize": 15, "titleFontWeight": "normal", "titleColor": "#222", "titlePadding": 18}},
                "color": {"field": "series", "type": "nominal", "scale": {"domain": ["ratio 1:1", "ratio 1:9", "ratio 1:199"], "range": ["#111111", "#f05a5a", "#2b3dd8"]},
                  "legend": {"orient": "none", "legendX": 281, "legendY": 17, "title": null, "fillColor": "white", "strokeColor": "#555", "padding": 5, "symbolType": "M-4.25,0L4.25,0", "symbolSize": 64, "symbolOffset": 13, "symbolStrokeWidth": 2, "labelFont": "Liberation Sans", "labelFontSize": 14, "labelColor": "#222", "rowPadding": 5, "labelOffset": 13}},
                "strokeDash": {"field": "series", "type": "nominal", "scale": {"domain": ["ratio 1:1", "ratio 1:9", "ratio 1:199"], "range": [[1, 0], [10, 5], [2, 6]]},
                  "legend": {"orient": "none", "legendX": 281, "legendY": 17, "title": null, "fillColor": "white", "strokeColor": "#555", "padding": 5, "symbolType": "M-4.25,0L4.25,0", "symbolSize": 64, "symbolOffset": 13, "symbolStrokeWidth": 2, "labelFont": "Liberation Sans", "labelFontSize": 14, "labelColor": "#222", "rowPadding": 5, "labelOffset": 13}},
                "strokeWidth": {"field": "series", "type": "nominal", "scale": {"domain": ["ratio 1:1", "ratio 1:9", "ratio 1:199"], "range": [2, 1.6, 2.5]}, "legend": null}
              }
            },
            {
              "data": {"name": "specB"},
              "mark": {"type": "line", "opacity": 0},
              "encoding": {
                "x": {"field": "wn", "type": "quantitative", "scale": {"domain": [300, 2000], "nice": false, "zero": false},
                  "axis": {"orient": "top", "values": [300,400,500,600,700,800,900,1000,1100,1200,1300,1400,1500,1600,1700,1800,1900,2000], "labels": false, "title": null, "minExtent": 0, "tickSize": 5, "tickColor": "#444", "domainColor": "#444"}},
                "y": {"field": "y", "type": "quantitative", "scale": {"domain": [-0.05, 0.425], "nice": false, "zero": false},
                  "axis": {"orient": "right", "values": [-0.05,-0.025,0,0.025,0.05,0.075,0.1,0.125,0.15,0.175,0.2,0.225,0.25,0.275,0.3,0.325,0.35,0.375,0.4,0.425], "labels": false, "title": null, "minExtent": 0, "tickSize": 5, "tickColor": "#444", "domainColor": "#444"}},
                "detail": {"field": "series", "type": "nominal"}
              }
            },
            {
              "data": {"name": "arrowsB"},
              "mark": {"type": "rule", "color": "#333", "strokeWidth": 1.2},
              "encoding": {
                "x": {"field": "x1", "type": "quantitative", "scale": {"domain": [300, 2000], "nice": false, "zero": false}, "axis": null},
                "y": {"field": "y1", "type": "quantitative", "scale": {"domain": [-0.05, 0.425], "nice": false, "zero": false}, "axis": null},
                "x2": {"field": "x2"},
                "y2": {"field": "y2"}
              }
            },
            {
              "data": {"name": "arrowsB"},
              "mark": {"type": "point", "shape": "M0,0 L0.6,1.6 L-0.6,1.6 Z", "filled": true, "fill": "white", "stroke": "#333", "strokeWidth": 1.2, "size": 90, "opacity": 1},
              "encoding": {
                "x": {"field": "x2", "type": "quantitative", "scale": {"domain": [300, 2000], "nice": false, "zero": false}, "axis": null},
                "y": {"field": "y2", "type": "quantitative", "scale": {"domain": [-0.05, 0.425], "nice": false, "zero": false}, "axis": null},
                "angle": {"field": "dir", "type": "quantitative", "scale": null}
              }
            },
            {
              "data": {"name": "notesB"},
              "mark": {"type": "text", "align": "left", "baseline": "middle", "font": "Liberation Serif", "fontSize": 13, "color": "#666"},
              "encoding": {
                "x": {"field": "wn", "type": "quantitative", "scale": {"domain": [300, 2000], "nice": false, "zero": false}, "axis": null},
                "y": {"field": "y", "type": "quantitative", "scale": {"domain": [-0.05, 0.425], "nice": false, "zero": false}, "axis": null},
                "text": {"field": "label", "type": "nominal"}
              }
            }
          ]
        }
      ],
      "spacing": 96,
      "resolve": {"scale": {"color": "independent", "strokeDash": "independent", "strokeWidth": "independent"}}
    },
    {
      "width": 980,
      "height": 376,
      "view": {"stroke": null},
      "title": {"text": "c)", "anchor": "start", "frame": "group", "dx": -90, "dy": 25, "offset": 6, "baseline": "bottom"},
      "layer": [
        {
          "data": {"name": "fit"},
          "mark": {"type": "line", "interpolate": "monotone", "color": "#333", "strokeWidth": 1.2},
          "encoding": {
            "x": {"field": "ratio", "type": "quantitative", "scale": {"domain": [-0.046219, 1], "nice": false, "zero": false},
              "axis": {"orient": "bottom", "values": [0.005025, 0.052632, 0.111111, 0.175439, 0.25, 0.434783, 1], "labelExpr": "'1:' + format(1 / datum.value, '.3~r')", "title": "Sample to colloid ratio", "titleX": 514, "domain": false, "tickSize": -8, "tickColor": "#888", "labelFont": "Liberation Serif", "labelFontSize": 18, "labelColor": "#222", "labelPadding": 14, "labelOverlap": false, "labelFlush": false, "labelBound": false, "titleFont": "Liberation Serif", "titleFontSize": 18, "titleFontWeight": "normal", "titleColor": "#222", "titlePadding": 3}},
            "y": {"field": "intensity", "type": "quantitative", "scale": {"domain": [1000, 16650], "nice": false, "zero": false},
              "axis": {"orient": "left", "offset": -48, "values": [2000, 4000, 6000, 8000, 10000, 12000, 14000, 16000], "format": "d", "title": "666 cm¯1 intensity (a.u.)", "domain": false, "tickSize": 5, "tickColor": "#888", "labelFont": "Liberation Serif", "labelFontSize": 18, "labelColor": "#222", "labelPadding": 1, "labelOverlap": false, "labelFlush": false, "titleFont": "Liberation Serif", "titleFontSize": 14, "titleFontWeight": "normal", "titleColor": "#222", "titlePadding": 11}}
          }
        },
        {
          "data": {"name": "fit"},
          "mark": {"type": "line", "opacity": 0},
          "encoding": {
            "x": {"field": "ratio", "type": "quantitative", "scale": {"domain": [-0.046219, 1], "nice": false, "zero": false},
              "axis": {"orient": "top", "values": [0.005025, 0.052632, 0.111111, 0.175439, 0.25, 0.434783, 1], "labels": false, "title": null, "minExtent": 0, "domain": false, "tickSize": -8, "tickColor": "#888"}},
            "y": {"field": "intensity", "type": "quantitative", "scale": {"domain": [1000, 16650], "nice": false, "zero": false},
              "axis": {"orient": "right", "values": [2000, 4000, 6000, 8000, 10000, 12000, 14000, 16000], "labels": false, "title": null, "minExtent": 0, "domain": false, "tickSize": -8, "tickColor": "#888"}}
          }
        },
        {
          "data": {"name": "frameC"},
          "mark": {"type": "rule", "color": "#999", "strokeWidth": 2},
          "encoding": {
            "x": {"field": "x1", "type": "quantitative", "scale": {"domain": [-0.046219, 1], "nice": false, "zero": false}, "axis": null},
            "y": {"field": "y1", "type": "quantitative", "scale": {"domain": [1000, 16650], "nice": false, "zero": false}, "axis": null},
            "x2": {"field": "x2"},
            "y2": {"field": "y2"}
          }
        },
        {
          "data": {"name": "points"},
          "mark": {"type": "circle", "size": 120, "color": "#000", "opacity": 1},
          "encoding": {
            "x": {"field": "ratio", "type": "quantitative", "scale": {"domain": [-0.046219, 1], "nice": false, "zero": false}, "axis": null},
            "y": {"field": "intensity", "type": "quantitative", "scale": {"domain": [1000, 16650], "nice": false, "zero": false}, "axis": null}
          }
        },
        {
          "data": {"name": "arrowsC"},
          "mark": {"type": "rule", "color": "#111", "strokeWidth": 1.2},
          "encoding": {
            "x": {"field": "x1", "type": "quantitative", "scale": {"domain": [-0.046219, 1], "nice": false, "zero": false}, "axis": null},
            "y": {"field": "y1", "type": "quantitative", "scale": {"domain": [1000, 16650], "nice": false, "zero": false}, "axis": null},
            "x2": {"field": "x2"},
            "y2": {"field": "y2"}
          }
        },
        {
          "data": {"name": "arrowsC"},
          "mark": {"type": "point", "shape": "M0,0 L0.55,1.8 L0,1.3 L-0.55,1.8 Z", "filled": true, "color": "#111", "size": 190, "opacity": 1},
          "encoding": {
            "x": {"field": "x2", "type": "quantitative", "scale": {"domain": [-0.046219, 1], "nice": false, "zero": false}, "axis": null},
            "y": {"field": "y2", "type": "quantitative", "scale": {"domain": [1000, 16650], "nice": false, "zero": false}, "axis": null},
            "angle": {"field": "dir", "type": "quantitative", "scale": null}
          }
        },
        {
          "data": {"name": "labelsC"},
          "mark": {"type": "text", "align": "left", "baseline": "middle", "font": "Liberation Serif", "fontSize": 18, "color": "#111"},
          "encoding": {
            "x": {"field": "ratio", "type": "quantitative", "scale": {"domain": [-0.046219, 1], "nice": false, "zero": false}, "axis": null},
            "y": {"field": "intensity", "type": "quantitative", "scale": {"domain": [1000, 16650], "nice": false, "zero": false}, "axis": null},
            "text": {"field": "label", "type": "nominal"}
          }
        }
      ]
    }
  ]
}
